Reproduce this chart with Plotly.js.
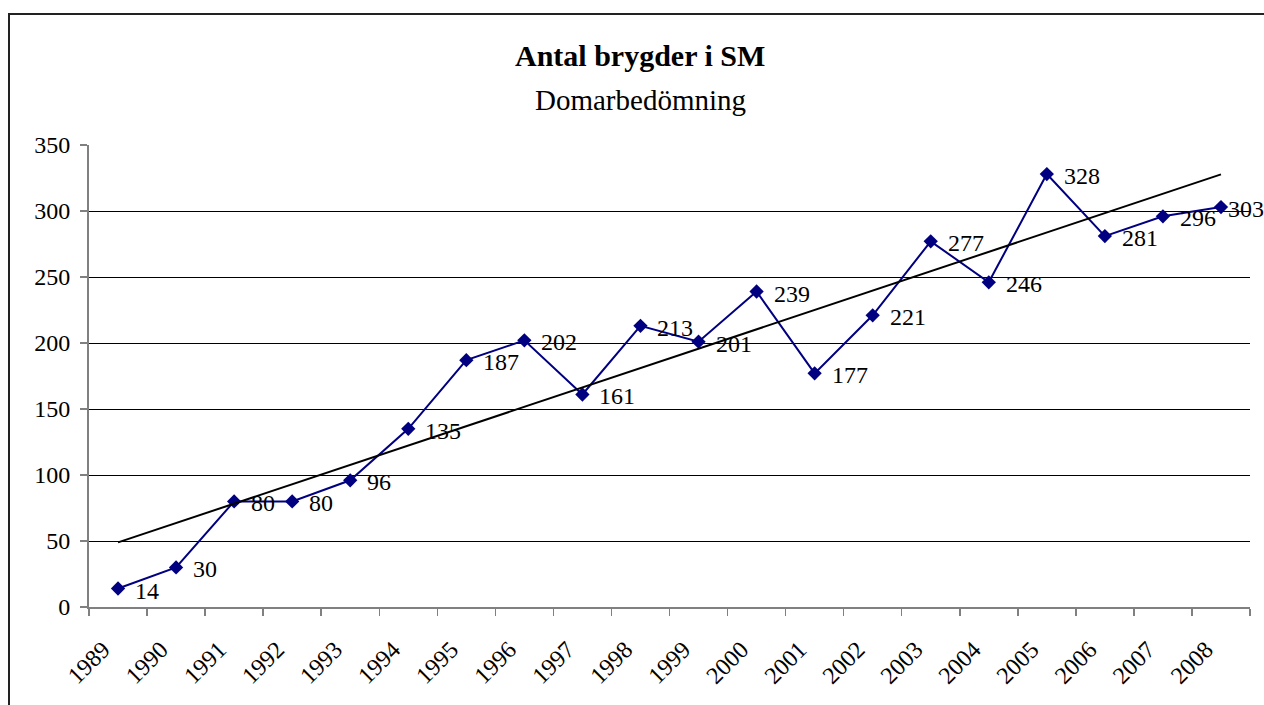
<!DOCTYPE html>
<html>
<head>
<meta charset="utf-8">
<script src="https://cdn.plot.ly/plotly-3.0.1.min.js"></script>
<style>
  html, body { margin: 0; padding: 0; background: #fff; overflow: hidden; }
  #chart { width: 1264px; height: 705px; }
  #frame { position: absolute; left: 8px; top: 13px; width: 3000px; height: 3000px;
           border-left: 2px solid #222; border-top: 2px solid #222; pointer-events: none; }
</style>
</head>
<body>
<div id="chart"></div>
<div id="frame"></div>
<script>
const years = ['1989','1990','1991','1992','1993','1994','1995','1996','1997','1998',
               '1999','2000','2001','2002','2003','2004','2005','2006','2007','2008'];
const brews = [14, 30, 80, 80, 96, 135, 187, 202, 161, 213,
               201, 239, 177, 221, 277, 246, 328, 281, 296, 303];
const yTicks = [0, 50, 100, 150, 200, 250, 300, 350];
const titleText = 'Antal brygder i SM';
const subtitleText = 'Domarbedömning';

// Linear trendline (least squares), as in the original spreadsheet chart
const n = brews.length;
const xs = brews.map((_, i) => i + 1);
const mx = xs.reduce((a, b) => a + b, 0) / n;
const my = brews.reduce((a, b) => a + b, 0) / n;
let sxy = 0, sxx = 0;
for (let i = 0; i < n; i++) { sxy += (xs[i] - mx) * (brews[i] - my); sxx += (xs[i] - mx) ** 2; }
const slope = sxy / sxx, icpt = my - slope * mx;
const trendX = [years[0], years[n - 1]];
const trendY = [icpt + slope * xs[0], icpt + slope * xs[n - 1]];

const FONT = 'Liberation Serif, Times New Roman, serif';

const traces = [
  {
    x: years, y: brews, type: 'scatter', mode: 'lines+markers',
    line: { color: '#000080', width: 2 },
    marker: { symbol: 'diamond', size: 11, color: '#000080' },
    hoverinfo: 'x+y', cliponaxis: false
  },
  {
    x: trendX, y: trendY, type: 'scatter', mode: 'lines',
    line: { color: '#000000', width: 2 }, hoverinfo: 'skip'
  }
];

// data labels: category axis annotations use the category index
const annotations = years.map((yr, i) => ({
  x: i, y: brews[i], xref: 'x', yref: 'y', text: String(brews[i]),
  showarrow: false, xanchor: 'left', yanchor: 'middle',
  xshift: i === n - 1 ? 5 : 15, yshift: -2,
  font: { family: FONT, size: 24, color: '#000' }
}));
annotations.push({
  x: (640 - 89) / 1161, y: (607 - 56) / 462, xref: 'paper', yref: 'paper',
  text: '<b>' + titleText + '</b>', showarrow: false, xanchor: 'center', yanchor: 'middle',
  font: { family: FONT, size: 30, color: '#000' }
});
annotations.push({
  x: (640 - 89) / 1161, y: (607 - 100) / 462, xref: 'paper', yref: 'paper',
  text: subtitleText, showarrow: false, xanchor: 'center', yanchor: 'middle',
  font: { family: FONT, size: 29, color: '#000' }
});

const layout = {
  width: 1264, height: 705,
  margin: { l: 89, r: 14, t: 145, b: 98 },
  paper_bgcolor: '#fff', plot_bgcolor: '#fff',
  showlegend: false,
  font: { family: FONT, size: 24, color: '#000' },
  xaxis: {
    type: 'category', range: [-0.5, n - 0.5],
    tickson: 'boundaries', ticks: 'outside', ticklen: 7, tickwidth: 1.5, tickcolor: '#808080',
    showline: true, linecolor: '#808080', linewidth: 2,
    showgrid: false, zeroline: false, tickangle: -45,
    ticklabelstandoff: 17, ticklabelshift: -15,
    tickfont: { family: FONT, size: 24, color: '#000' }, fixedrange: true
  },
  yaxis: {
    range: [0, 350], tickvals: yTicks, ticktext: yTicks.map(String),
    ticks: 'outside', ticklen: 7, tickwidth: 1.5, tickcolor: '#808080',
    showline: true, linecolor: '#808080', linewidth: 2,
    showgrid: true, gridcolor: '#000', gridwidth: 1, zeroline: false,
    tickfont: { family: FONT, size: 24, color: '#000' }, ticklabelstandoff: 5, fixedrange: true
  },
  annotations: annotations
};

Plotly.newPlot('chart', traces, layout, { displayModeBar: false, staticPlot: true });
</script>
</body>
</html>
